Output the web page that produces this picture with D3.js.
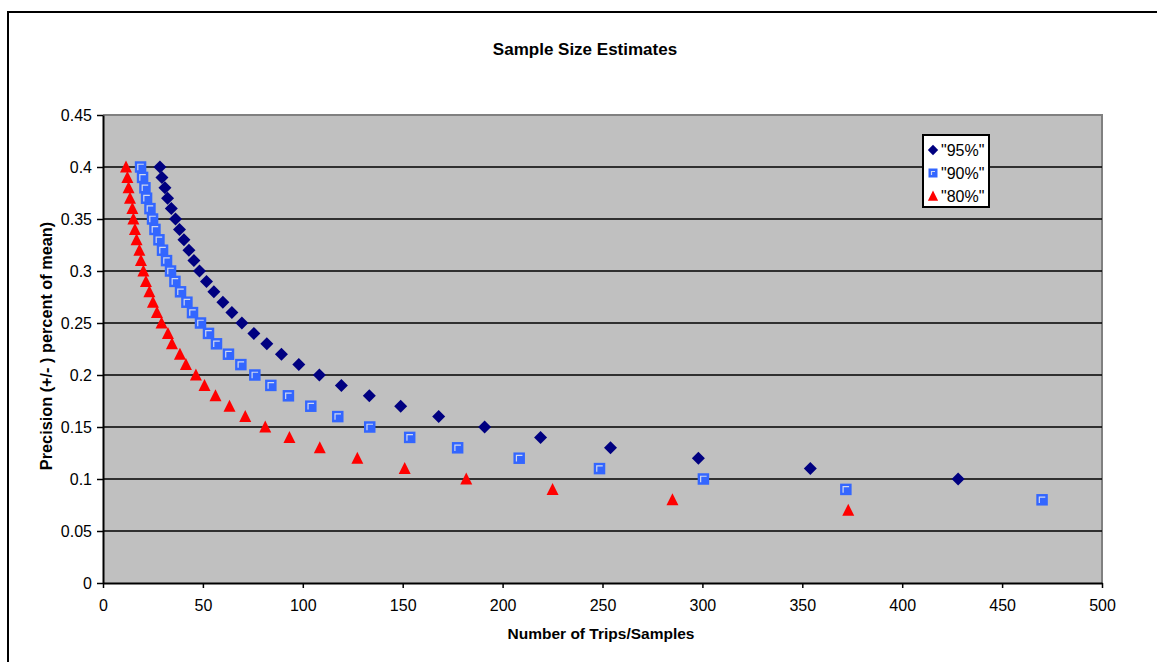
<!DOCTYPE html>
<html>
<head>
<meta charset="utf-8">
<script src="https://cdn.jsdelivr.net/npm/d3@7"></script>
<style>
  body { margin: 0; background: #fff; }
  svg { display: block; font-family: Arial, "Liberation Sans", sans-serif; }
</style>
</head>
<body>
<svg width="1157" height="662"></svg>
<script>
// values: precision (y) and number of samples (x)
const precision95 = [0.40, 0.39, 0.38, 0.37, 0.36, 0.35, 0.34, 0.33, 0.32, 0.31, 0.30, 0.29, 0.28, 0.27, 0.26, 0.25,
  0.24, 0.23, 0.22, 0.21, 0.20, 0.19, 0.18, 0.17, 0.16, 0.15, 0.14, 0.13, 0.12, 0.11, 0.10];
const samples95 = [28.5, 29.5, 31, 32.3, 34.2, 36.3, 38.3, 40.5, 43, 45.5, 48.3, 51.8, 55.5, 60, 64.5, 69.5,
  75.5, 82, 89.3, 98, 108.3, 119.3, 133.3, 149, 168, 191, 219, 254, 298, 354, 428];

const precision90 = [0.40, 0.39, 0.38, 0.37, 0.36, 0.35, 0.34, 0.33, 0.32, 0.31, 0.30, 0.29, 0.28, 0.27, 0.26, 0.25,
  0.24, 0.23, 0.22, 0.21, 0.20, 0.19, 0.18, 0.17, 0.16, 0.15, 0.14, 0.13, 0.12, 0.11, 0.10, 0.09, 0.08];
const samples90 = [18.8, 19.8, 21, 21.8, 23.5, 24.8, 26, 28, 29.8, 31.8, 33.8, 36, 38.8, 42, 44.8, 48.8,
  52.8, 56.8, 62.8, 69, 76, 84, 92.8, 104, 117.5, 133.5, 153.5, 177.5, 208.3, 248.5, 300.5, 371.8, 470];

const precision80 = [0.40, 0.39, 0.38, 0.37, 0.36, 0.35, 0.34, 0.33, 0.32, 0.31, 0.30, 0.29, 0.28, 0.27, 0.26, 0.25,
  0.24, 0.23, 0.22, 0.21, 0.20, 0.19, 0.18, 0.17, 0.16, 0.15, 0.14, 0.13, 0.12, 0.11, 0.10, 0.09, 0.08, 0.07];
const samples80 = [11.5, 12.2, 12.8, 13.5, 14.7, 15.2, 16, 16.8, 18.2, 19, 20.2, 21.5, 23.2, 25, 27, 29.3,
  32.5, 34.5, 38.5, 41.5, 46.5, 50.8, 56.3, 63.3, 71.2, 81.2, 93.3, 108.5, 127.3, 151, 181.8, 225, 285, 373];

const seriesNames = ['"95%"', '"90%"', '"80%"'];
const xTicks = [0, 50, 100, 150, 200, 250, 300, 350, 400, 450, 500];
const yTicks = [0, 0.05, 0.1, 0.15, 0.2, 0.25, 0.3, 0.35, 0.4, 0.45];

const svg = d3.select("svg");

// outer chart frame (runs off the right and bottom edges)
svg.append("rect")
  .attr("x", 8).attr("y", 12)
  .attr("width", 1170).attr("height", 700)
  .attr("fill", "#fff")
  .attr("stroke", "#000")
  .attr("stroke-width", 2);

const plot = {left: 103, right: 1102, top: 115, bottom: 583};

const x = d3.scaleLinear().domain([0, 500]).range([plot.left, plot.right]);
const y = d3.scaleLinear().domain([0, 0.45]).range([plot.bottom, plot.top]);

// plot area
svg.append("rect")
  .attr("x", plot.left).attr("y", plot.top)
  .attr("width", plot.right - plot.left).attr("height", plot.bottom - plot.top)
  .attr("fill", "#c0c0c0");

// top and right border of the plot area
svg.append("path")
  .attr("d", `M${plot.left},${plot.top}H${plot.right}V${plot.bottom}`)
  .attr("fill", "none")
  .attr("stroke", "#808080")
  .attr("stroke-width", 2);

// gridlines
svg.append("g")
  .selectAll("line")
  .data(yTicks.filter(d => d > 0 && d < 0.45))
  .enter()
  .append("line")
  .attr("x1", plot.left).attr("x2", plot.right)
  .attr("y1", d => y(d)).attr("y2", d => y(d))
  .attr("stroke", "#000")
  .attr("stroke-width", 1.4);

// axes
const fmt = d => String(+d.toFixed(2));

const yAxis = svg.append("g")
  .attr("transform", `translate(${plot.left},0)`)
  .call(d3.axisLeft(y).tickValues(yTicks).tickFormat(fmt).tickSize(6).tickSizeOuter(0).tickPadding(5));

const xAxis = svg.append("g")
  .attr("transform", `translate(0,${plot.bottom})`)
  .call(d3.axisBottom(x).tickValues(xTicks).tickSize(5).tickSizeOuter(0).tickPadding(12));

[yAxis, xAxis].forEach(ax => {
  ax.attr("font-family", null).attr("font-size", 16);
  ax.select(".domain").attr("stroke", "#000").attr("stroke-width", 2);
  ax.selectAll(".tick line").attr("stroke", "#000").attr("stroke-width", 1.5);
  ax.selectAll(".tick text").attr("fill", "#000");
});

// markers
const diamond = "M0,-6.5L6.5,0L0,6.5L-6.5,0Z";
const triangle = "M0,-6.5L6,5.5L-6,5.5Z";

function drawSquare(g, s) {
  const h = s / 2;
  g.append("rect")
    .attr("x", -h).attr("y", -h)
    .attr("width", s).attr("height", s)
    .attr("fill", "#3366ff");
  g.append("path")
    .attr("d", `M${-h + 3},${h - 2.5}V${-h + 3}H${h - 2.5}`)
    .attr("fill", "none")
    .attr("stroke", "#d0d8f0")
    .attr("stroke-width", 1.2);
}

svg.append("g")
  .selectAll("path")
  .data(d3.zip(samples95, precision95))
  .enter()
  .append("path")
  .attr("d", diamond)
  .attr("transform", d => `translate(${x(d[0])},${y(d[1])})`)
  .attr("fill", "#000080");

svg.append("g")
  .selectAll("g")
  .data(d3.zip(samples90, precision90))
  .enter()
  .append("g")
  .attr("transform", d => `translate(${x(d[0])},${y(d[1])})`)
  .each(function() { drawSquare(d3.select(this), 11.5); });

svg.append("g")
  .selectAll("path")
  .data(d3.zip(samples80, precision80))
  .enter()
  .append("path")
  .attr("d", triangle)
  .attr("transform", d => `translate(${x(d[0])},${y(d[1])})`)
  .attr("fill", "#ff0000");

// legend
const legend = svg.append("g").attr("transform", "translate(923,135)");
legend.append("rect")
  .attr("width", 66).attr("height", 72)
  .attr("fill", "#fff")
  .attr("stroke", "#000")
  .attr("stroke-width", 2);

const rowY = [15, 38, 61];
seriesNames.forEach((name, i) => {
  const row = legend.append("g").attr("transform", `translate(10,${rowY[i]})`);
  if (i === 0) row.append("path").attr("d", diamond).attr("transform", "scale(0.8)").attr("fill", "#000080");
  if (i === 1) drawSquare(row, 9);
  if (i === 2) row.append("path").attr("d", triangle).attr("transform", "scale(0.85)").attr("fill", "#ff0000");
  legend.append("text")
    .attr("x", 18).attr("y", rowY[i])
    .attr("dy", "0.36em")
    .attr("font-size", 16)
    .text(name);
});

// titles
svg.append("text")
  .attr("x", 585).attr("y", 55)
  .attr("text-anchor", "middle")
  .attr("font-weight", "bold")
  .attr("font-size", 17)
  .text("Sample Size Estimates");

svg.append("text")
  .attr("x", 601).attr("y", 639)
  .attr("text-anchor", "middle")
  .attr("font-weight", "bold")
  .attr("font-size", 15.5)
  .text("Number of Trips/Samples");

svg.append("text")
  .attr("transform", "translate(52,346) rotate(-90)")
  .attr("text-anchor", "middle")
  .attr("font-weight", "bold")
  .attr("font-size", 16.3)
  .text("Precision (+/- ) percent of mean)");
</script>
</body>
</html>
